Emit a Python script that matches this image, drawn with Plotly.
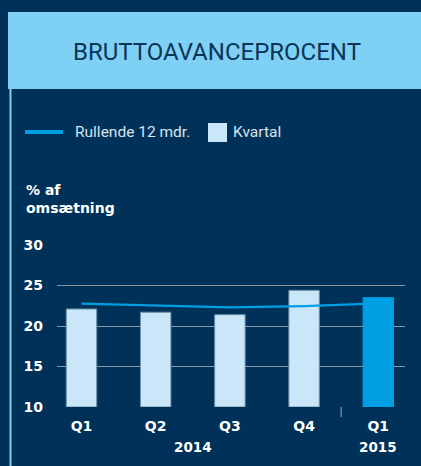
import plotly.graph_objects as go

quarters = ["Q1", "Q2", "Q3", "Q4", "Q1"]
years = ["2014", "2015"]
kvartal = [22.1, 21.7, 21.4, 24.4, 23.5]
rullende = [22.75, 22.55, 22.3, 22.45, 22.8]
bar_colors = ["#C9E7F9", "#C9E7F9", "#C9E7F9", "#C9E7F9", "#009FE3"]
yticks = [10, 15, 20, 25, 30]

W, H = 421, 466
L, R, T, B = 57, 405, 245, 407  # plot area in px

def px(xp):
    return (xp - L) / (R - L)

def py(yp):
    return (B - yp) / (B - T)

BG = "#003259"
BOLD = "DejaVu Sans"
REG = "Roboto"
xs = list(range(len(quarters)))

fig = go.Figure()
fig.add_trace(go.Bar(
    x=xs, y=[v - 10 for v in kvartal], base=10, name="Kvartal",
    marker=dict(color=bar_colors, line=dict(color=["#6f8fa8"] * 4 + ["#009FE3"], width=1)),
    width=0.41, showlegend=False,
))
fig.add_trace(go.Scatter(
    x=xs, y=rullende, mode="lines", name="Rullende 12 mdr.",
    line=dict(color="#009FE3", width=2.2), showlegend=False,
))

shapes = [
    dict(type="rect", xref="paper", yref="paper", x0=px(8), x1=px(421), y0=py(89), y1=py(12),
         fillcolor="#7FD0F5", line=dict(width=0), layer="below"),
    dict(type="rect", xref="paper", yref="paper", x0=px(9.5), x1=px(11.5), y0=py(466), y1=py(89),
         fillcolor="#7FD0F5", line=dict(width=0), layer="below"),
    dict(type="line", xref="paper", yref="paper", x0=px(25), x1=px(63), y0=py(132), y1=py(132),
         line=dict(color="#009FE3", width=4)),
    dict(type="rect", xref="paper", yref="paper", x0=px(208), x1=px(227), y0=py(142), y1=py(123),
         fillcolor="#C9E7F9", line=dict(width=0)),
    dict(type="line", xref="x", yref="paper", x0=3.5, x1=3.5, y0=0, y1=py(417),
         line=dict(color="#8a96a2", width=1.2)),
]

annotations = [
    dict(text="BRUTTOAVANCEPROCENT", xref="paper", yref="paper", x=px(217), y=py(52),
         showarrow=False, font=dict(family=REG, size=24, color="#0B3558"),
         xanchor="center", yanchor="middle"),
    dict(text="Rullende 12 mdr.", xref="paper", yref="paper", x=px(73), y=py(132),
         showarrow=False, font=dict(family=REG, size=15.5, color="#D8E4EE"),
         xanchor="left", yanchor="middle"),
    dict(text="Kvartal", xref="paper", yref="paper", x=px(231), y=py(132),
         showarrow=False, font=dict(family=REG, size=15.5, color="#D8E4EE"),
         xanchor="left", yanchor="middle"),
    dict(text="<b>% af<br>omsætning</b>", xref="paper", yref="paper", x=px(24), y=py(199),
         showarrow=False, font=dict(family=BOLD, size=14, color="#FFFFFF"),
         xanchor="left", yanchor="middle", align="left"),
    dict(text="<b>%s</b>" % years[0], xref="x", yref="paper", x=1.5, y=py(447),
         showarrow=False, font=dict(family=BOLD, size=13.5, color="#FFFFFF"),
         xanchor="center", yanchor="middle"),
    dict(text="<b>%s</b>" % years[1], xref="x", yref="paper", x=4, y=py(447),
         showarrow=False, font=dict(family=BOLD, size=13.5, color="#FFFFFF"),
         xanchor="center", yanchor="middle"),
]

fig.update_layout(
    width=W, height=H,
    margin=dict(l=L, r=W - R, t=T, b=H - B, pad=0),
    paper_bgcolor=BG, plot_bgcolor=BG,
    shapes=shapes, annotations=annotations,
    showlegend=False,
    xaxis=dict(range=[-0.33, 4.36], tickvals=xs, ticktext=["<b>%s</b>" % q for q in quarters],
               showgrid=False, zeroline=False, showline=False, ticks="",
               tickfont=dict(family=BOLD, size=14, color="#FFFFFF"), ticklabelstandoff=9,
               fixedrange=True),
    yaxis=dict(range=[10, 30], tickvals=yticks, ticktext=["<b>%d</b>" % v for v in yticks],
               showgrid=True, gridcolor="#8a96a2", gridwidth=1.4, zeroline=False, showline=False,
               ticks="", tickfont=dict(family=BOLD, size=14, color="#FFFFFF"),
               ticklabelstandoff=13, fixedrange=True),
)

fig.write_html(
    "out.html",
    config={"displayModeBar": False},
    post_script="document.body.style.margin='0';document.body.style.padding='0';",
)
